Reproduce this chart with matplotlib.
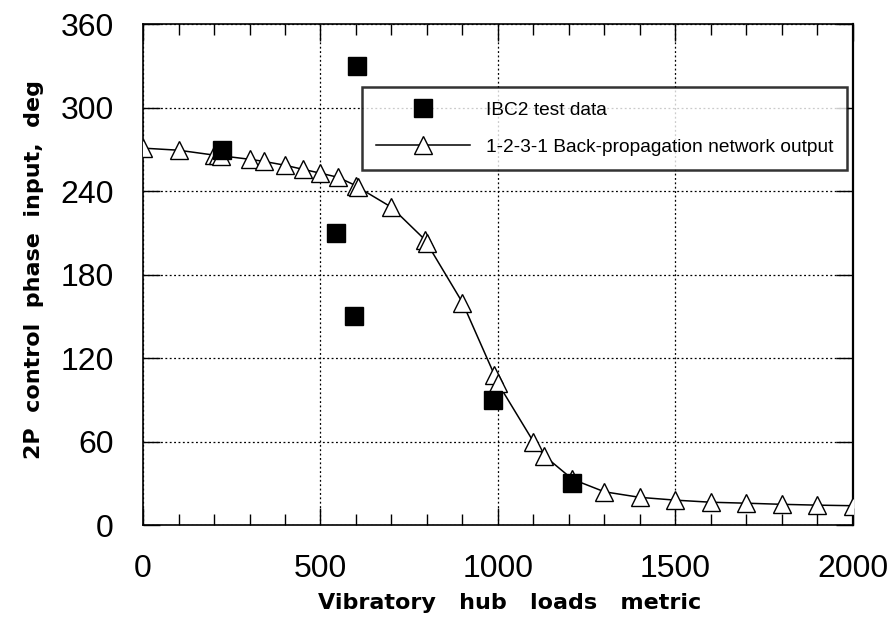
import matplotlib
matplotlib.use("Agg")
import matplotlib.pyplot as plt
from matplotlib.ticker import MultipleLocator

plt.rcParams['font.family'] = ['Liberation Sans', 'DejaVu Sans']

# IBC2 test data
test_x = [222, 603, 544, 594, 986, 1208]
test_y = [270, 330, 210, 150, 90, 30]

# 1-2-3-1 Back-propagation network output
net_x = [0, 100, 200, 210, 220, 300, 340, 400, 450, 500, 550, 600, 605,
         700, 795, 800, 900, 990, 1000, 1100, 1130, 1210, 1300, 1400,
         1500, 1600, 1700, 1800, 1900, 2000]
net_y = [271, 269.5, 266, 265.8, 265.5, 263, 261.5, 258.7, 255.8, 253, 250,
         244, 243, 228.5, 205, 202.6, 160, 108, 102, 60, 50, 33, 24, 20,
         18, 16.5, 15.8, 15, 14.4, 14]

x_ticks = [0, 500, 1000, 1500, 2000]
y_ticks = [0, 60, 120, 180, 240, 300, 360]

fig = plt.figure(figsize=(8.94, 6.23), dpi=100)
ax = fig.add_axes([0.160, 0.157, 0.794, 0.804])

ax.plot(net_x, net_y, color='black', lw=1.1, marker='^', markersize=13,
        markerfacecolor='white', markeredgecolor='black', markeredgewidth=1.0,
        label='1-2-3-1 Back-propagation network output', zorder=3)
ax.plot(test_x, test_y, linestyle='none', marker='s', markersize=12.5,
        color='black', label='IBC2 test data', zorder=4)

ax.set_xlim(0, 2000)
ax.set_ylim(0, 360)
ax.set_xticks(x_ticks)
ax.set_yticks(y_ticks)
ax.xaxis.set_minor_locator(MultipleLocator(100))
ax.tick_params(which='both', direction='in', top=True, right=True)
ax.tick_params(which='major', length=12, width=1, labelsize=23, pad=21)
ax.tick_params(which='minor', length=8, width=1)
ax.grid(True, which='major', linestyle=(0, (1.5, 2)), color='black', lw=0.9)
for s in ax.spines.values():
    s.set_linewidth(1.2)
ax.spines['right'].set_linewidth(1.6)

ax.set_xlabel('Vibratory   hub   loads   metric', fontsize=16, fontweight='bold',
              family='DejaVu Sans')
ax.set_ylabel('2P  control  phase  input,  deg', fontsize=16, fontweight='bold',
              family='DejaVu Sans')
ax.xaxis.set_label_coords(0.517, -0.135)
ax.yaxis.set_label_coords(-0.139, 0.511)

handles, labels = ax.get_legend_handles_labels()
leg = ax.legend(handles[::-1], labels[::-1], loc='upper left',
                bbox_to_anchor=(0.3085, 0.874), borderaxespad=0,
                frameon=True, fancybox=False,
                fontsize=13.8, handlelength=4.9, borderpad=0.75, labelspacing=1.0,
                handletextpad=0.8, edgecolor='black')
leg.get_frame().set_linewidth(1.8)

fig.savefig('out.png', dpi=100)
